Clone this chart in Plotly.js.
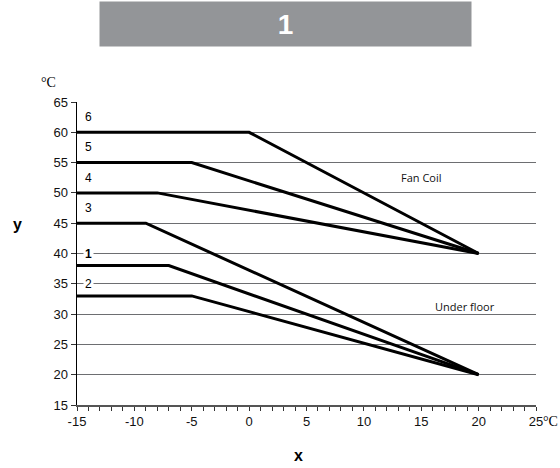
<!DOCTYPE html>
<html><head><meta charset="utf-8">
<script src="https://cdn.plot.ly/plotly-3.0.1.min.js"></script>
<style>html,body{margin:0;padding:0;background:#fff}#c{width:560px;height:468px}</style>
</head><body><div id="c"></div>
<script>
// Curve data: outdoor temperature (x) vs flow temperature (y)
const curveNames = ['6','5','4','3','1','2'];
const curveX = [
  [-15, 0, 20],
  [-15, -5, 20],
  [-15, -8, 20],
  [-15, -9, 20],
  [-15, -7, 20],
  [-15, -5, 20]
];
const curveY = [
  [60, 60, 40],
  [55, 55, 40],
  [50, 50, 40],
  [45, 45, 20],
  [38, 38, 20],
  [33, 33, 20]
];
const labelX = [-14, -14, -14, -14, -14, -14];
const labelY = [62.5, 57.5, 52.5, 47.5, 40, 35];
const xTicks = [-15, -10, -5, 0, 5, 10, 15, 20, 25];
const yTicks = [15, 20, 25, 30, 35, 40, 45, 50, 55, 60, 65];
const groupLabels = ['Fan Coil', 'Under floor'];
const groupX = [15, 18.8];
const groupY = [52.5, 31.3];

const SANS = 'Liberation Sans';
const SERIF = 'Liberation Serif';

const traces = curveNames.map((n, i) => ({
  x: curveX[i], y: curveY[i], type: 'scatter', mode: 'lines', name: n,
  line: {color: '#000', width: 3}, hoverinfo: 'skip'
}));

const annotations = [];
curveNames.forEach((n, i) => {
  const bg = (labelY[i] % 5 === 0);
  annotations.push({
    x: labelX[i], y: labelY[i], xref: 'x', yref: 'y', text: n === '1' ? '<b>1</b>' : n, showarrow: false,
    xanchor: 'center', yanchor: 'middle',
    font: {family: SANS, size: 12, color: '#000'},
    bgcolor: bg ? '#fff' : 'rgba(0,0,0,0)', borderpad: 1
  });
});
groupLabels.forEach((t, i) => {
  annotations.push({
    x: groupX[i], y: groupY[i], xref: 'x', yref: 'y', text: t, showarrow: false,
    xanchor: 'center', yanchor: 'middle',
    font: {family: 'Open Sans', size: 11, color: '#111'}
  });
});
// Header bar
annotations.push({
  x: 0.5, y: 1, xref: 'paper', yref: 'paper',
  text: '<b>1</b>', showarrow: false, xanchor: 'center', yanchor: 'bottom',
  width: 371, height: 44, bgcolor: '#939598', borderpad: 0,
  font: {family: SANS, size: 28, color: '#fff'},
  yshift: 55, xshift: -21
});
// Units and axis letters
annotations.push({x: 0, y: 1, xref: 'paper', yref: 'paper', text: '°C', showarrow: false,
  xanchor: 'center', yanchor: 'bottom', xshift: -29, yshift: 10,
  font: {family: SERIF, size: 14, color: '#000'}});
annotations.push({x: 1, y: 0, xref: 'paper', yref: 'paper', text: '°C', showarrow: false,
  xanchor: 'left', yanchor: 'top', xshift: 5, yshift: -7,
  font: {family: SERIF, size: 14, color: '#000'}});
annotations.push({x: 0, y: 44.8, xref: 'paper', yref: 'y', text: '<b>y</b>', showarrow: false,
  xanchor: 'center', yanchor: 'middle', xshift: -60,
  font: {family: SANS, size: 16, color: '#000'}});
annotations.push({x: 0.482, y: 0, xref: 'paper', yref: 'paper', text: '<b>x</b>', showarrow: false,
  xanchor: 'center', yanchor: 'middle', yshift: -50,
  font: {family: SANS, size: 16, color: '#000'}});

const layout = {
  width: 560, height: 468,
  margin: {l: 77, r: 24, t: 102, b: 63},
  paper_bgcolor: '#fff', plot_bgcolor: '#fff',
  showlegend: false,
  font: {family: SANS},
  xaxis: {
    range: [-15, 25], tickvals: xTicks, ticktext: xTicks.map(String),
    showgrid: false, zeroline: false, showline: true, linecolor: '#555', linewidth: 1.5,
    ticks: 'outside', ticklen: 4, tickcolor: '#333', tickwidth: 1,
    minor: {dtick: 1, tick0: 0, ticks: 'outside', ticklen: 4, tickcolor: '#333', tickwidth: 1, showgrid: false},
    tickfont: {family: SANS, size: 13, color: '#111'},
    fixedrange: true
  },
  yaxis: {
    range: [15, 65], tickvals: yTicks, ticktext: yTicks.map(String),
    showgrid: true, gridcolor: '#6d6e71', gridwidth: 1, zeroline: false,
    showline: true, linecolor: '#000', linewidth: 1.5,
    ticks: 'outside', ticklen: 5, tickcolor: '#333',
    tickfont: {family: SANS, size: 13, color: '#111'},
    fixedrange: true
  },
  annotations: annotations
};
Plotly.newPlot('c', traces, layout, {staticPlot: true, displayModeBar: false});
</script></body></html>
